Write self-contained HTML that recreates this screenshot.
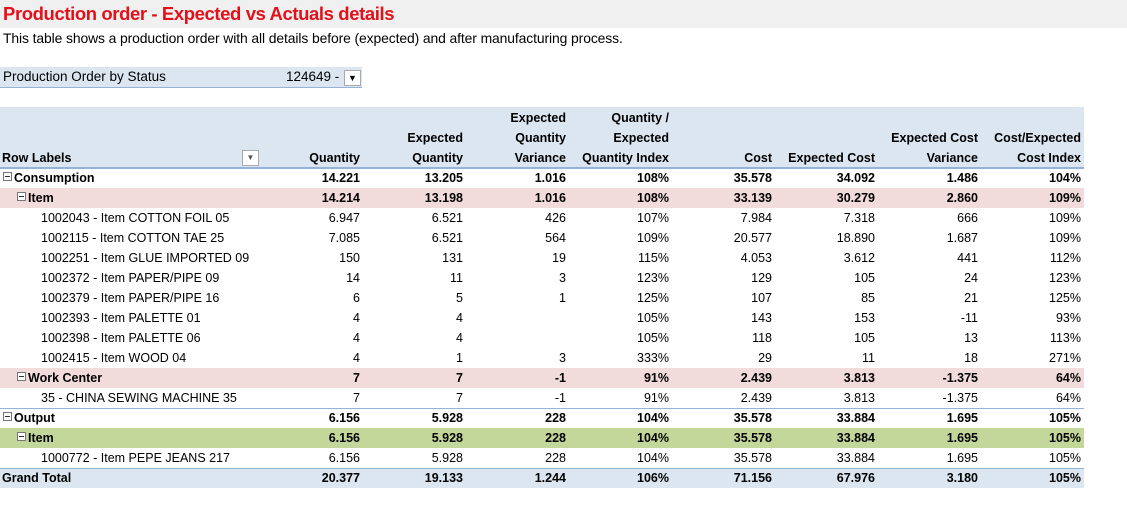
<!DOCTYPE html>
<html><head><meta charset="utf-8"><style>
body{margin:0;width:1127px;height:524px;background:#fff;font-family:"Liberation Sans",sans-serif;color:#000;position:relative;overflow:hidden}
.title{position:absolute;left:0;top:0;width:1127px;height:28px;background:#f0f0f0}
.title span{position:absolute;left:3px;top:3px;font-size:18.5px;font-weight:bold;color:#e3101a;letter-spacing:-0.4px}
.sub{position:absolute;left:3px;top:30px;font-size:13.9px;letter-spacing:-0.1px}
.filter{position:absolute;left:0;top:67px;width:362px;height:20px;background:#dce6f1;border-bottom:1px solid #95b3d7;font-size:13.5px}
.hdr{position:absolute;left:0;top:107px;width:1084px;height:60px;background:#dce6f1;border-bottom:1px solid #95b3d7}
.h{position:absolute;font-size:12.5px;font-weight:bold;text-align:right;line-height:20px}
.row{position:absolute;left:0;width:1084px;height:20px;font-size:12.5px;line-height:20px}
.row div{position:absolute;top:0;text-align:right}
.b{font-weight:bold}
.box{display:inline-block;width:7px;height:7px;border:1px solid #777;margin-right:2px;position:relative;top:-1px;background:#fff}
.box:after{content:"";position:absolute;left:1px;top:3px;width:5px;height:1px;background:#333}
</style></head><body>
<div class="title"><span>Production order - Expected vs Actuals details</span></div>
<div class="sub">This table shows a production order with all details before (expected) and after manufacturing process.</div>
<div class="filter">
<span style="position:absolute;left:3px;top:2px">Production Order by Status</span>
<span style="position:absolute;left:286px;top:2px">124649 -</span>
<span style="position:absolute;left:344px;top:3px;width:15px;height:14px;border:1px solid #aaa;background:#fff;font-size:9px;text-align:center;line-height:14px">▼</span>
</div>
<div class="hdr">
<div class="h" style="left:2px;top:41px;text-align:left">Row Labels</div>
<div style="position:absolute;left:242px;top:43px;width:15px;height:14px;border:1px solid #aaa;background:#fff;font-size:8px;text-align:center;line-height:14px;color:#555">▼</div>
<div class="h" style="right:724px;top:41px">Quantity</div>
<div class="h" style="right:621px;top:21px">Expected<br>Quantity</div>
<div class="h" style="right:518px;top:1px">Expected<br>Quantity<br>Variance</div>
<div class="h" style="right:415px;top:1px">Quantity /<br>Expected<br>Quantity Index</div>
<div class="h" style="right:312px;top:41px">Cost</div>
<div class="h" style="right:209px;top:41px">Expected Cost</div>
<div class="h" style="right:106px;top:21px">Expected Cost<br>Variance</div>
<div class="h" style="right:3px;top:21px">Cost/Expected<br>Cost Index</div>
</div>
<div id="rows"></div>
<script>
const labels=["Consumption","Item","1002043 - Item COTTON FOIL 05","1002115 - Item COTTON TAE 25","1002251 - Item GLUE IMPORTED 09","1002372 - Item PAPER/PIPE 09","1002379 - Item PAPER/PIPE 16","1002393 - Item PALETTE 01","1002398 - Item PALETTE 06","1002415 - Item WOOD 04","Work Center","35 - CHINA SEWING MACHINE 35","Output","Item","1000772 - Item PEPE JEANS 217","Grand Total"];
const levels=[0,1,2,2,2,2,2,2,2,2,1,2,0,1,2,-1];
const quantity=["14.221","14.214","6.947","7.085","150","14","6","4","4","4","7","7","6.156","6.156","6.156","20.377"];
const expQty=["13.205","13.198","6.521","6.521","131","11","5","4","4","1","7","7","5.928","5.928","5.928","19.133"];
const qtyVar=["1.016","1.016","426","564","19","3","1","","","3","-1","-1","228","228","228","1.244"];
const qtyIdx=["108%","108%","107%","109%","115%","123%","125%","105%","105%","333%","91%","91%","104%","104%","104%","106%"];
const cost=["35.578","33.139","7.984","20.577","4.053","129","107","143","118","29","2.439","2.439","35.578","35.578","35.578","71.156"];
const expCost=["34.092","30.279","7.318","18.890","3.612","105","85","153","105","11","3.813","3.813","33.884","33.884","33.884","67.976"];
const costVar=["1.486","2.860","666","1.687","441","24","21","-11","13","18","-1.375","-1.375","1.695","1.695","1.695","3.180"];
const costIdx=["104%","109%","109%","109%","112%","123%","125%","93%","113%","271%","64%","64%","105%","105%","105%","105%"];
const cols=[quantity,expQty,qtyVar,qtyIdx,cost,expCost,costVar,costIdx];
const colNames=['quantity','expected-quantity','quantity-variance','quantity-index','cost','expected-cost','cost-variance','cost-index'];
const rightEdges=[724,621,518,415,312,209,106,3];
const host=document.getElementById('rows');
labels.forEach((lab,i)=>{
  const r=document.createElement('div');
  
  
  const lv=levels[i];
  r.className='row'+(lv<2?' b':'');
  r.style.top=(168+i*20)+'px';
  if(lv===0)r.style.boxShadow='inset 0 1px 0 #95b3d7';
  if(lv===-1){r.style.background='#dce6f1';r.style.boxShadow='inset 0 1px 0 #95b3d7';}
  if(lv===1)r.style.background=(i===13)?'#c4d79b':'#f2dcdb';
  const l=document.createElement('div');
  l.style.textAlign='left';
  l.style.left=(lv===-1?2:lv===0?3:lv===1?17:41)+'px';
  l.innerHTML=(lv===0||lv===1?'<span class="box"></span>':'')+lab;
  
  
  r.appendChild(l);
  cols.forEach((c,j)=>{
    const d=document.createElement('div');
    
    
    d.style.right=rightEdges[j]+'px';
    d.textContent=c[i];
    r.appendChild(d);
  });
  host.appendChild(r);
});
</script>
</body></html>
